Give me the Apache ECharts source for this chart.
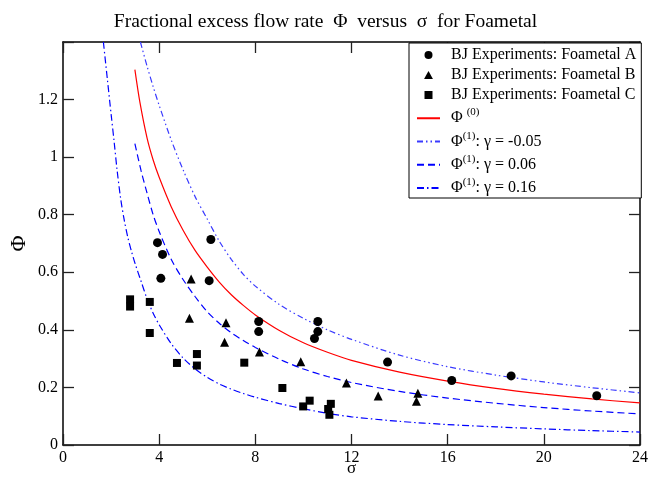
<!DOCTYPE html>
<html>
<head>
<meta charset="utf-8">
<script src="https://cdn.jsdelivr.net/npm/echarts@6/dist/echarts.min.js"></script>
<style>
html,body{margin:0;padding:0;background:#fff;}
#chart{width:651px;height:477px;}
</style>
</head>
<body>
<div id="chart"></div>
<script>
// ---- data ----
const titleText = 'Fractional excess flow rate  \u03A6  versus  \u03C3  for Foametal';
const seriesNames = [
  'BJ Experiments: Foametal A',
  'BJ Experiments: Foametal B',
  'BJ Experiments: Foametal C',
  'phi0',
  'phi1 g=-0.05',
  'phi1 g=0.06',
  'phi1 g=0.16'
];
const legendLabels = {
  'phi0': '{p|\u03A6 }{s|(0)}',
  'phi1 g=-0.05': '{p|\u03A6}{s|(1)}{p|: \u03B3 = -0.05}',
  'phi1 g=0.06': '{p|\u03A6}{s|(1)}{p|: \u03B3 = 0.06}',
  'phi1 g=0.16': '{p|\u03A6}{s|(1)}{p|: \u03B3 = 0.16}'
};
// [sigma, Phi]
const foametalA = [[3.93,0.703],[4.14,0.662],[4.07,0.579],[6.15,0.714],[6.08,0.571],[8.14,0.429],[8.14,0.394],
  [10.6,0.429],[10.6,0.394],[10.46,0.370],[13.5,0.288],[16.17,0.224],[18.64,0.240],[22.2,0.171]];
const foametalB = [[5.33,0.577],[5.26,0.440],[6.78,0.425],[6.72,0.357],[8.17,0.323],[9.89,0.289],
  [11.79,0.215],[13.11,0.170],[14.76,0.180],[14.70,0.152]];
const foametalC = [[2.79,0.506],[2.79,0.481],[3.61,0.497],[3.61,0.389],[4.74,0.285],[5.57,0.316],[5.57,0.276],
  [7.54,0.286],[9.125,0.198],[10.26,0.154],[9.99,0.134],[11.14,0.143],[11.03,0.125],[11.08,0.105]];
const phi0Curve = [[2.99,1.304],[3.2,1.19],[3.5,1.065],[3.75,0.99],[4.0,0.93],[4.5,0.828],[5.0,0.745],
  [5.5,0.675],[6.0,0.618],[6.5,0.566],[7.0,0.522],[7.5,0.485],[8.0,0.452],[9.0,0.398],[10.0,0.355],
  [11.0,0.322],[12.0,0.294],[14.0,0.253],[16.0,0.222],[18.0,0.197],[20.0,0.177],[22.0,0.160],[24.0,0.146]];
const phi1GammaM005 = [[3.22,1.40],[3.5,1.315],[3.75,1.245],[4.0,1.18],[4.5,1.06],[5.0,0.955],[5.5,0.862],
  [6.0,0.785],[6.5,0.708],[7.0,0.645],[7.5,0.593],[8.0,0.552],[9.0,0.488],[10.0,0.440],[11.0,0.400],
  [12.0,0.367],[14.0,0.312],[16.0,0.272],[18.0,0.243],[20.0,0.219],[22.0,0.199],[24.0,0.181]];
const phi1Gamma006 = [[2.99,1.047],[3.25,0.952],[3.5,0.874],[3.75,0.800],[4.0,0.742],[4.5,0.645],[5.0,0.574],
  [5.5,0.515],[6.0,0.463],[6.5,0.423],[7.0,0.390],[7.5,0.363],[8.0,0.339],[9.0,0.298],[10.0,0.264],
  [11.0,0.238],[12.0,0.217],[14.0,0.186],[16.0,0.163],[18.0,0.145],[20.0,0.130],[22.0,0.118],[24.0,0.108]];
const phi1Gamma016 = [[1.68,1.40],[1.85,1.267],[2.0,1.15],[2.125,1.055],[2.25,0.955],[2.4,0.855],[2.55,0.78],
  [2.7,0.72],[2.85,0.672],[3.0,0.63],[3.25,0.568],[3.5,0.507],[3.75,0.458],[4.0,0.418],[4.5,0.352],
  [5.0,0.302],[5.5,0.264],[6.0,0.235],[6.5,0.212],[7.0,0.194],[7.5,0.179],[8.0,0.166],[9.0,0.144],
  [10.0,0.126],[11.0,0.110],[12.0,0.098],[14.0,0.082],[16.0,0.071],[18.0,0.063],[20.0,0.056],
  [22.0,0.050],[24.0,0.045]];
const xMin = 0, xMax = 24, xStep = 4;
const yMin = 0, yMax = 1.4, yStep = 0.2;

// ---- chart ----
const FONT = 'Liberation Serif';
const chart = echarts.init(document.getElementById('chart'), null, {renderer: 'canvas'});

function axisCommon(showLabel){
  return {
    axisLine: {show: true, onZero: false, lineStyle: {color: '#000', width: 1.5}},
    axisTick: {show: true, inside: true, length: 11, lineStyle: {color: '#222', width: 1.3}},
    splitLine: {show: false},
    axisLabel: {show: showLabel, color: '#000', fontFamily: FONT, fontSize: 16, margin: 5}
  };
}

const legendIcons = [
  'circle',
  'path://M0,-1L1,0.8L-1,0.8Z',
  'path://M0,0L1,0L1,1L0,1Z'
];
const legendData = seriesNames.map(function(n, i){
  return i < 3 ? {name: n, icon: legendIcons[i]} : {name: n, itemStyle: {opacity: 0}};
});

const option = {
  backgroundColor: '#fff',
  animation: false,
  title: {
    text: titleText,
    left: 'center',
    top: 7,
    textStyle: {fontFamily: FONT, fontSize: 19.5, fontWeight: 'normal', color: '#000'}
  },
  grid: {left: 63, right: 11, top: 42, bottom: 32, containLabel: false, outerBoundsMode: 'none'},
  legend: {
    data: legendData,
    orient: 'vertical',
    left: 409,
    top: 43,
    padding: [4, 5, 2, 7],
    itemGap: 4,
    itemWidth: 23,
    itemHeight: 8,
    symbolKeepAspect: true,
    backgroundColor: '#fff',
    borderColor: '#000',
    borderWidth: 1,
    z: 10,
    formatter: function(name){ return legendLabels[name] || name; },
    textStyle: {
      fontFamily: FONT, fontSize: 16, color: '#000', padding: [0, 0, 0, 6],
      rich: {
        p: {fontFamily: FONT, fontSize: 16, color: '#000', lineHeight: 22.5},
        s: {fontFamily: FONT, fontSize: 11, color: '#000', lineHeight: 12, verticalAlign: 'top'}
      }
    }
  },
  xAxis: [
    Object.assign({type: 'value', position: 'bottom', min: xMin, max: xMax, interval: xStep,
      name: '\u03C3', nameLocation: 'middle', nameGap: 15, nameMoveOverlap: false,
      nameTextStyle: {fontFamily: FONT, fontSize: 17, color: '#000'}}, axisCommon(true)),
    Object.assign({type: 'value', position: 'top', min: xMin, max: xMax, interval: xStep}, axisCommon(false))
  ],
  yAxis: [
    Object.assign({type: 'value', position: 'left', min: yMin, max: yMax, interval: yStep,
      name: '\u03A6', nameLocation: 'middle', nameGap: 33, nameRotate: 90, nameMoveOverlap: false,
      nameTextStyle: {fontFamily: FONT, fontSize: 22, color: '#000'}}, axisCommon(true)),
    Object.assign({type: 'value', position: 'right', min: yMin, max: yMax, interval: yStep}, axisCommon(false))
  ],
  series: [
    {name: seriesNames[0], type: 'scatter', data: foametalA, symbol: 'circle', symbolSize: 9,
      itemStyle: {color: '#000', opacity: 1}, z: 5},
    {name: seriesNames[1], type: 'scatter', data: foametalB, symbol: 'triangle', symbolSize: 9,
      itemStyle: {color: '#000', opacity: 1}, z: 5},
    {name: seriesNames[2], type: 'scatter', data: foametalC, symbol: 'rect', symbolSize: 8,
      itemStyle: {color: '#000', opacity: 1}, z: 5},
    {name: seriesNames[3], type: 'line', data: phi0Curve, showSymbol: false,
      smooth: 0.3, lineStyle: {color: '#ff0000', width: 1.2, type: 'solid'},
      itemStyle: {color: '#ff0000', opacity: 0}},
    {name: seriesNames[4], type: 'line', data: phi1GammaM005, showSymbol: false,
      smooth: 0.3, lineStyle: {color: '#3a3aff', width: 1.2, type: [6, 3, 1.5, 3, 1.5, 3]},
      itemStyle: {color: '#3a3aff', opacity: 0}},
    {name: seriesNames[5], type: 'line', data: phi1Gamma006, showSymbol: false,
      smooth: 0.3, lineStyle: {color: '#0000ff', width: 1.2, type: [7, 4]},
      itemStyle: {color: '#0000ff', opacity: 0}},
    {name: seriesNames[6], type: 'line', data: phi1Gamma016, showSymbol: false,
      smooth: 0.3, lineStyle: {color: '#0000ff', width: 1.2, type: [7, 3, 1.5, 3]},
      itemStyle: {color: '#0000ff', opacity: 0}}
  ]
};
// hide the top y label (1.4) like the reference
option.yAxis[0].axisLabel.formatter = function(v){ return Math.abs(v - yMax) < 1e-9 ? '' : String(v); };
chart.setOption(option);
</script>
</body>
</html>
